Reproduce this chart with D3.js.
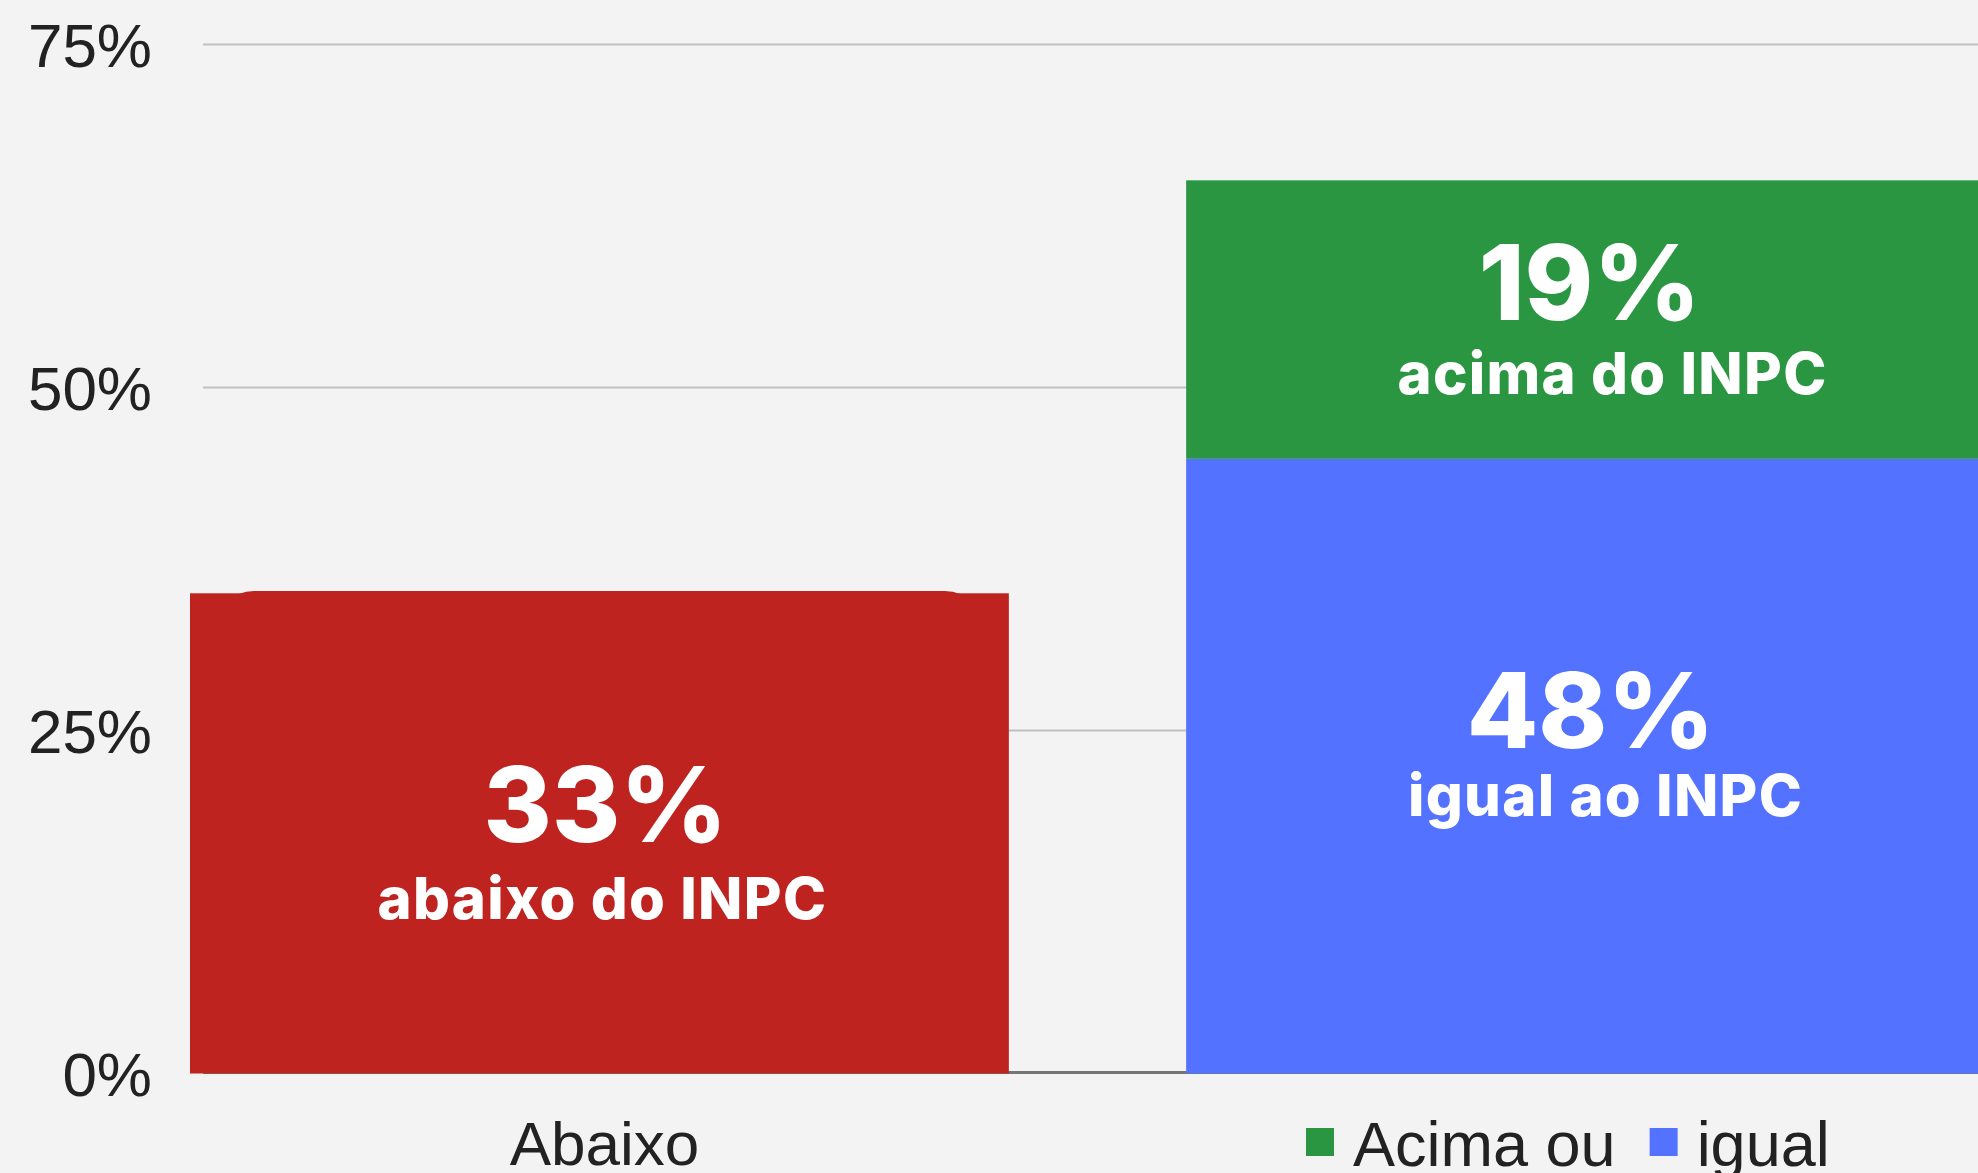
<!doctype html>
<html lang="pt">
  <head>
    <meta charset="UTF-8" />
    <title>Reajustes em relação ao INPC</title>
    <script src="https://d3js.org/d3.v7.min.js"></script>
    <style>
      body {
        margin: 0;
        background-color: #f3f3f3;
      }

      svg {
        display: block;
      }

      .tick-label {
        font-family: 'Liberation Sans', Arial, sans-serif;
        font-size: 62px;
        fill: #222;
      }

      .bar-pct {
        font-family: Inter, 'Open Sans', sans-serif;
        font-weight: 800;
        font-size: 104px;
        fill: #fff;
        text-anchor: middle;
      }

      .bar-sub {
        font-family: Inter, 'Open Sans', sans-serif;
        font-weight: 800;
        font-size: 58px;
        letter-spacing: 1.3px;
        fill: #fff;
        text-anchor: middle;
      }
    </style>
  </head>
  <body>
    <svg id="chart" width="1978" height="1173"></svg>

    <script>
      // Categories on the x axis
      const categories = ['Abaixo', 'Acima ou igual']

      // Stacked series values (%), as drawn in the bars
      const belowValues = [35, 0]
      const equalValues = [0, 44.8]
      const aboveValues = [0, 20.3]

      // Texts printed inside the bars
      const seriesKeys = ['below', 'equal', 'above']
      const pctLabels = ['33%', '48%', '19%']
      const subLabels = ['abaixo do INPC', 'igual ao INPC', 'acima do INPC']

      // Legend entries (shown under the second bar)
      const legendLabels = ['Acima ou', 'igual']
      const legendKeys = ['above', 'equal']

      // Y ticks
      const yTicks = [0, 25, 50, 75]

      const colors = {
        below: '#be2320',
        equal: '#5272ff',
        above: '#2a9642',
      }

      // tweaks for label placement, relative to the segment centre
      const labelLayout = {
        below: { pctDy: 9, subDy: 86, pctDx: 6, subDx: 3 },
        equal: { pctDy: -18, subDy: 50, pctDx: -5, subDx: 10 },
        above: { pctDy: 0, subDy: 74, pctDx: -6, subDx: 17 },
      }

      const svg = d3.select('#chart')
      const width = +svg.attr('width')

      svg.append('rect').attr('width', width).attr('height', 1173).attr('fill', '#f3f3f3')

      const table = categories.map((c, i) => ({
        category: c,
        below: belowValues[i],
        equal: equalValues[i],
        above: aboveValues[i],
      }))

      const stacked = d3.stack().keys(seriesKeys)(table)

      const x = d3
        .scaleBand()
        .domain(categories)
        .range([190, 2005])
        .paddingInner(0.178)
        .paddingOuter(0)

      const y = d3.scaleLinear().domain([0, 75]).range([1073.5, 44.5])

      // Gridlines
      svg
        .append('g')
        .selectAll('line')
        .data(yTicks.filter((t) => t > 0))
        .join('line')
        .attr('x1', 203)
        .attr('x2', width)
        .attr('y1', (d) => y(d))
        .attr('y2', (d) => y(d))
        .attr('stroke', '#c0c0c0')
        .attr('stroke-width', 2)

      // Baseline
      svg
        .append('line')
        .attr('x1', 203)
        .attr('x2', width)
        .attr('y1', y(0) - 1)
        .attr('y2', y(0) - 1)
        .attr('stroke', '#757575')
        .attr('stroke-width', 3)

      // Y axis labels
      const yAxis = svg
        .append('g')
        .attr('transform', 'translate(152,0)')
        .call(
          d3
            .axisLeft(y)
            .tickValues(yTicks)
            .tickSize(0)
            .tickPadding(0)
            .tickFormat((d) => d + '%')
        )
      yAxis.select('.domain').remove()
      yAxis.selectAll('text').attr('class', 'tick-label').attr('dy', '0.36em').attr('fill', null)

      // the red bar has a rounded shape peeking out at its top
      svg
        .append('rect')
        .attr('x', x('Abaixo') + 24)
        .attr('width', x.bandwidth() - 48)
        .attr('y', y(belowValues[0]) - 2.4)
        .attr('height', 80)
        .attr('rx', 40)
        .attr('fill', colors.below)

      // Bars
      svg
        .append('g')
        .selectAll('g')
        .data(stacked)
        .join('g')
        .attr('fill', (s) => colors[s.key])
        .selectAll('rect')
        .data((s) => s.filter((d) => d[1] > d[0]))
        .join('rect')
        .attr('x', (d) => x(d.data.category))
        .attr('y', (d) => y(d[1]))
        .attr('width', x.bandwidth())
        .attr('height', (d) => y(d[0]) - y(d[1]))

      // Labels inside the bars
      stacked.forEach((s, si) => {
        const lay = labelLayout[s.key]
        s.filter((d) => d[1] > d[0]).forEach((d) => {
          const cx = x(d.data.category) + x.bandwidth() / 2
          const cy = y((d[0] + d[1]) / 2)
          svg
            .append('text')
            .attr('class', 'bar-pct')
            .attr('x', cx + lay.pctDx)
            .attr('y', cy + lay.pctDy)
            .text(pctLabels[si])
          svg
            .append('text')
            .attr('class', 'bar-sub')
            .attr('x', cx + lay.subDx)
            .attr('y', cy + lay.subDy)
            .text(subLabels[si])
        })
      })

      // X axis label (first category only; the second one shows the legend)
      const xAxis = svg
        .append('g')
        .attr('transform', `translate(5,${y(0) - 1})`)
        .call(
          d3
            .axisBottom(x)
            .tickSize(0)
            .tickPadding(48)
            .tickFormat((d, i) => (i === 0 ? d : ''))
        )
      xAxis.select('.domain').remove()
      xAxis.selectAll('text').attr('class', 'tick-label').attr('fill', null)

      // Legend
      const legend = svg.append('g').attr('transform', 'translate(1306,1128)')
      let lx = 0
      legendLabels.forEach((label, i) => {
        legend
          .append('rect')
          .attr('x', lx)
          .attr('y', 0)
          .attr('width', 28)
          .attr('height', 28)
          .attr('fill', colors[legendKeys[i]])
        const t = legend
          .append('text')
          .attr('class', 'tick-label')
          .attr('x', lx + 47)
          .attr('y', 38)
          .style('font-size', '63px')
          .text(label)
        lx += 47 + t.node().getComputedTextLength() + 34
      })
    </script>
  </body>
</html>
